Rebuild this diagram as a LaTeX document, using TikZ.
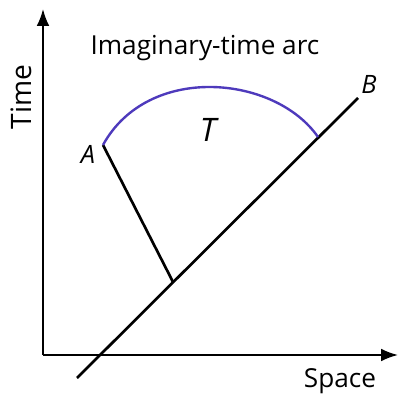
\documentclass[tikz,border=0pt]{standalone}
\usepackage{fontspec}
\setmainfont{Open Sans}
\usetikzlibrary{arrows.meta}
\definecolor{arcblue}{RGB}{78,58,188}
\tikzset{
    axis/.style={line width=1.3pt, -{Latex[length=12pt,width=9pt]}},
    worldline/.style={line width=1.9pt},
    lbl/.style={inner sep=0pt, font=\fontsize{18.6}{20}\selectfont},
    pt/.style={inner sep=0pt, font=\fontsize{18}{20}\selectfont\itshape}
}
\begin{document}
\begin{tikzpicture}[x=0.025cm, y=0.025cm]
    \useasboundingbox (0,0) rectangle (398,393);

    % 坐标轴
    \coordinate (O) at (43,38);
    \coordinate (Ytop) at (43,384);
    \coordinate (Xend) at (398,38);
    \draw[axis] (O) -- (Ytop);
    \draw[axis] (O) -- (Xend);
    \node[lbl, rotate=90, font=\fontsize{20}{22}\selectfont] (time) at (21,296) {Time};
    \node[lbl] (space) at (340,12) {Space};

    % 斜线
    \coordinate (lo) at (77,15);
    \coordinate (hi) at (358,295);
    \draw[worldline] (lo) -- (hi);
    \node[pt] (B) at (369,309) {B};

    % A 到斜线
    \coordinate (A) at (103,248);
    \coordinate (foot) at (173,111);
    \draw[worldline] (A) -- (foot);
    \node[pt] (Alabel) at (88,239) {A};

    % 虚时间弧
    \coordinate (C) at (318,256);
    \draw[arcblue, line width=1.7pt] (A) .. controls (148,330) and (275,318) .. (C);
    \node[pt, font=\fontsize{23}{25}\selectfont\itshape] (T) at (208,263) {T};

    \node[lbl] (title) at (205,345) {Imaginary-time arc};
\end{tikzpicture}
\end{document}
